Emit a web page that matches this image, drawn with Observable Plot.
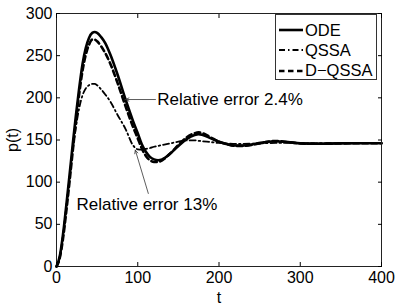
<!DOCTYPE html>
<html>
<head>
<meta charset="utf-8">
<script src="https://cdn.jsdelivr.net/npm/d3@7"></script>
<script src="https://cdn.jsdelivr.net/npm/@observablehq/plot@0.6"></script>
<style>
  body { margin: 0; background: #fff; }
  #wrap { position: relative; width: 399px; height: 306px; font-family: "Liberation Sans", Arial, sans-serif; }
  #legend { position: absolute; left: 275px; top: 14px; width: 102px; height: 66px; border: 1px solid #333; background: #fff; box-sizing: border-box; }
  #legend .row { position: absolute; left: 0; height: 20px; display: flex; align-items: center; font-size: 16.5px; color: #000; }
  #legend svg { margin-left: 3px; margin-right: 2px; }
</style>
</head>
<body>
<div id="wrap"></div>
<script>
const tValues = [0,4,8,12,16,20,24,28,32,36,40,44,47,50,55,60,66,75,85,94,100,105,110,115,120,125,130,140,150,160,170,175,180,190,200,210,220,230,245,260,270,285,300,320,350,400];
const odeValues = [0,12,38,72,108,145,180,212,240,259,271,277,278,277,272,265,252,228,198,173,158,145,136,130,127,126,127,134,143,151,156,157,156,152,148,145,143.5,143.5,145.5,148,148.6,147.5,146,145.5,146,146.2];
const qssaValues = [0,11,36,70,104,138,166,188,203,211,215,216.5,216.5,215,210,204,196,180,163,144,139,138.5,139.5,140.5,142,143,144,146,148,149.5,149.5,149,148.5,147.5,146.5,146,145.5,145.5,145.8,146.3,146.5,146.5,146.3,146.2,146.2,146.2];
const dqssaValues = [0,10,33,65,100,137,172,205,232,251,263,269,269,267,261,253,241,218,190,166,152,140,131,126,124,124,126,134,144,153,158,159,158,153,148,145,143,143,145,148,148.8,147.5,146,145.5,146,146.2];

const seriesNames = ["ODE", "QSSA", "D\u2212QSSA"];
const xTicks = [0, 100, 200, 300, 400];
const yTicks = [0, 50, 100, 150, 200, 250, 300];

const annotationTexts = ["Relative error 2.4%", "Relative error 13%"];
const annotationTextT = [124, 24.6];
const annotationTextP = [198, 73];
const arrowFromT = [121.8, 113];
const arrowFromP = [198, 86.6];
const arrowToT = [85, 97];
const arrowToP = [198, 138];

const styles = [
  {dash: null, width: 2.6},
  {dash: "6,3,1.5,3", width: 1.8},
  {dash: "5.5,3.5", width: 2.6}
];

const seriesValues = [odeValues, qssaValues, dqssaValues];
const rows = [];
seriesValues.forEach((vals, i) => tValues.forEach((t, j) => rows.push({t, p: vals[j], s: seriesNames[i]})));
const annos = annotationTexts.map((txt, i) => ({
  txt, tx: annotationTextT[i], ty: annotationTextP[i],
  x1: arrowFromT[i], y1: arrowFromP[i], x2: arrowToT[i], y2: arrowToP[i]
}));

const lineMarks = [1, 2, 0].map(i => Plot.line(rows.filter(r => r.s === seriesNames[i]), {
  x: "t", y: "p", stroke: "black", strokeWidth: styles[i].width,
  strokeDasharray: styles[i].dash, curve: "monotone-x"
}));

const chart = Plot.plot({
  width: 399, height: 306,
  marginLeft: 56, marginRight: 18, marginTop: 13, marginBottom: 40,
  style: {fontFamily: "'Liberation Sans', Arial, sans-serif", fontSize: "16px", color: "black", background: "white"},
  x: {domain: [0, 400]},
  y: {domain: [0, 300]},
  marks: [
    ...lineMarks,
    Plot.arrow(annos, {x1: "x1", y1: "y1", x2: "x2", y2: "y2", stroke: "#333", strokeWidth: 0.8, headLength: 7, headAngle: 50}),
    Plot.text(annos, {x: "tx", y: "ty", text: "txt", textAnchor: "start", fontSize: 17, fill: "black"}),
    Plot.frame({stroke: "#222", strokeWidth: 1}),
    Plot.axisX({anchor: "bottom", ticks: xTicks, tickSize: -4, tickPadding: 9, fontSize: 16, label: "t", labelAnchor: "center", labelArrow: "none", labelOffset: 36}),
    Plot.axisX({anchor: "top", ticks: xTicks, tickSize: -4, tickFormat: () => "", label: null}),
    Plot.axisY({anchor: "left", ticks: yTicks, tickSize: -4, tickPadding: 8, fontSize: 16, label: "p(t)", labelAnchor: "center", labelArrow: "none", labelOffset: 50}),
    Plot.axisY({anchor: "right", ticks: yTicks, tickSize: -4, tickFormat: () => "", label: null})
  ]
});
const wrap = document.getElementById("wrap");
wrap.appendChild(chart);

const legend = document.createElement("div");
legend.id = "legend";
seriesNames.forEach((name, i) => {
  const row = document.createElement("div");
  row.className = "row";
  row.style.top = (5 + i * 20.3) + "px";
  const dash = styles[i].dash ? `stroke-dasharray="${styles[i].dash}"` : "";
  row.innerHTML = `<svg width="24" height="10"><line x1="0" y1="5" x2="24" y2="5" stroke="black" stroke-width="${styles[i].width}" ${dash}/></svg><span>${name}</span>`;
  legend.appendChild(row);
});
wrap.appendChild(legend);
</script>
</body>
</html>
